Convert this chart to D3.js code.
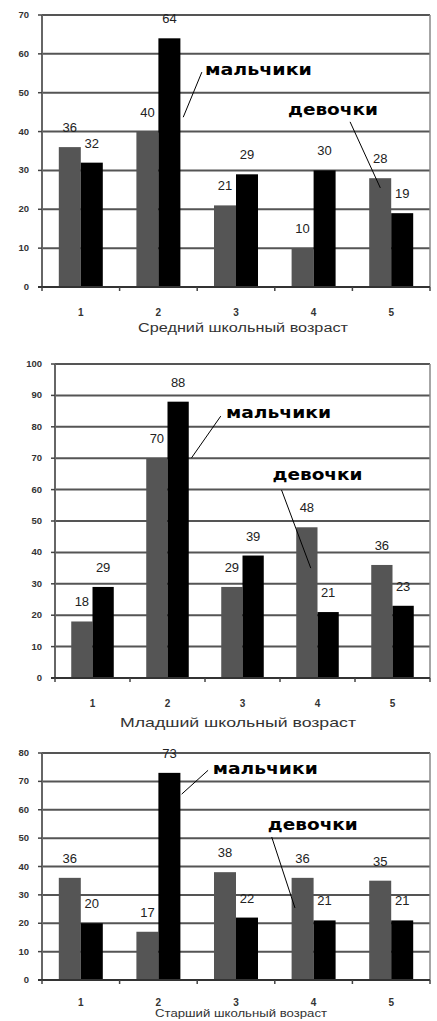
<!DOCTYPE html>
<html>
  <head>
    <meta charset="utf-8">
    <title>Школьный возраст</title>
    <style>
      body { margin: 0; background: #fff; }
      svg { display: block; }
      .tick-y { font-family: "Liberation Sans", Arial, sans-serif; font-size: 9.5px; font-weight: bold; fill: #333; }
      .tick-x { font-family: "Liberation Sans", Arial, sans-serif; font-size: 10px; font-weight: bold; fill: #333; }
      .val { font-family: "Liberation Sans", Arial, sans-serif; font-size: 13px; fill: #222; }
      .ttl { font-family: "Liberation Sans", Arial, sans-serif; fill: #333; }
      .note { font-family: "DejaVu Sans", sans-serif; font-size: 16px; font-weight: bold; fill: #000; }
    </style>
  </head>
  <body>
    <div id="chart"></div>
    <script src="https://d3js.org/d3.v7.min.js"></script>
    <script>
      var ageGroups = ["1", "2", "3", "4", "5"];
      var series    = ["девочки", "мальчики"];

      var middleGirls = [36, 40, 21, 10, 28],
          middleBoys  = [32, 64, 29, 30, 19];
      var juniorGirls = [18, 70, 29, 48, 36],
          juniorBoys  = [29, 88, 39, 21, 23];
      var seniorGirls = [36, 17, 38, 36, 35],
          seniorBoys  = [20, 73, 22, 21, 21];

      var titles = ["Средний школьный возраст", "Младший школьный возраст", "Старший школьный возраст"];
      var yMaxes = [70, 100, 80];

      var colors = {"девочки": "#555555", "мальчики": "#000000"};

      // layout for each of the three panels
      var panels = [
        {girls: middleGirls, boys: middleBoys, title: titles[0], ymax: yMaxes[0],
         left: 42, right: 430, top: 15, bottom: 287, tickY: 316,
         titleX: 243, titleY: 332, titleSize: 12, titleLen: 210,
         notes: [
           {text: "мальчики", tx: 2.10, tv: 55.8, len: 107, lx1: 2.06, lv1: 55.3, lx2: 1.82, lv2: 43.7},
           {text: "девочки",  tx: 3.17, tv: 45.5, len: 90,  lx1: 3.97, lv1: 42.5, lx2: 4.36, lv2: 25.5}
         ]},
        {girls: juniorGirls, boys: juniorBoys, title: titles[1], ymax: yMaxes[1],
         left: 55, right: 430, top: 364, bottom: 678, tickY: 707,
         titleX: 238, titleY: 727, titleSize: 13, titleLen: 236,
         notes: [
           {text: "мальчики", tx: 2.28, tv: 84.4, len: 105, lx1: 2.21, lv1: 83.4, lx2: 1.82, lv2: 70.1},
           {text: "девочки",  tx: 2.90, tv: 64.6, len: 90,  lx1: 3.02, lv1: 59.9, lx2: 3.41, lv2: 35.0}
         ]},
        {girls: seniorGirls, boys: seniorBoys, title: titles[2], ymax: yMaxes[2],
         left: 42, right: 430, top: 753, bottom: 980, tickY: 1006,
         titleX: 241, titleY: 1017, titleSize: 10, titleLen: 172,
         notes: [
           {text: "мальчики", tx: 2.20, tv: 74.3, len: 105, lx1: 2.14, lv1: 73.9, lx2: 1.80, lv2: 65.5},
           {text: "девочки",  tx: 2.91, tv: 54.6, len: 90,  lx1: 2.96, lv1: 50.4, lx2: 3.26, lv2: 25.4}
         ]}
      ];

      var svg = d3.select("#chart").append("svg")
                  .attr("width", 437)
                  .attr("height", 1021);

      panels.forEach(function(p) { drawPanel(p); });

      function drawPanel(p) {
        var g = svg.append("g");

        var pad = 0.433;
        var x = d3.scaleBand()
                  .domain(ageGroups)
                  .range([p.left, p.right])
                  .paddingInner(pad)
                  .paddingOuter(pad / 2);
        var xs = d3.scaleBand().domain(series).range([0, x.bandwidth()]);
        // continuous category position, for boundaries and callouts
        var xc = d3.scaleLinear().domain([0, ageGroups.length]).range([p.left, p.right]);
        var y  = d3.scaleLinear().domain([0, p.ymax]).range([p.bottom, p.top]);

        var ticks = d3.range(0, p.ymax + 1, 10);

        // gridlines
        g.selectAll(".grid").data(ticks.filter(function(t) { return t > 0; }))
          .enter().append("line")
          .attr("x1", p.left).attr("x2", p.right)
          .attr("y1", function(d) { return y(d); }).attr("y2", function(d) { return y(d); })
          .attr("stroke", "#555").attr("stroke-width", 2);

        // right border
        g.append("line")
          .attr("x1", p.right).attr("x2", p.right)
          .attr("y1", y(p.ymax)).attr("y2", y(0))
          .attr("stroke", "#888").attr("stroke-width", 1.5);

        // bars
        var rows = ageGroups.map(function(a, i) {
          return {age: a, "девочки": p.girls[i], "мальчики": p.boys[i]};
        });
        var grp = g.selectAll(".grp").data(rows).enter().append("g")
                   .attr("transform", function(d) { return "translate(" + x(d.age) + ",0)"; });
        grp.selectAll("rect")
          .data(function(d) { return series.map(function(s) { return {s: s, v: d[s]}; }); })
          .enter().append("rect")
          .attr("x", function(d) { return xs(d.s); })
          .attr("width", xs.bandwidth())
          .attr("y", function(d) { return y(d.v); })
          .attr("height", function(d) { return y(0) - y(d.v); })
          .attr("fill", function(d) { return colors[d.s]; });

        grp.selectAll("text")
          .data(function(d) { return series.map(function(s) { return {s: s, v: d[s]}; }); })
          .enter().append("text")
          .attr("class", "val")
          .attr("text-anchor", "middle")
          .attr("x", function(d) { return xs(d.s) + xs.bandwidth() / 2; })
          .attr("y", function(d) { return y(d.v) - 15; })
          .text(function(d) { return d.v; });

        // y axis
        g.append("line")
          .attr("x1", p.left).attr("x2", p.left)
          .attr("y1", y(p.ymax)).attr("y2", y(0))
          .attr("stroke", "#666").attr("stroke-width", 2);
        g.selectAll(".ytk").data(ticks).enter().append("line")
          .attr("x1", p.left - 4).attr("x2", p.left)
          .attr("y1", function(d) { return y(d); }).attr("y2", function(d) { return y(d); })
          .attr("stroke", "#444").attr("stroke-width", 1.5);
        g.selectAll(".ylbl").data(ticks).enter().append("text")
          .attr("class", "tick-y")
          .attr("text-anchor", "end")
          .attr("x", p.left - 13)
          .attr("y", function(d) { return y(d) + 3; })
          .text(function(d) { return d; });

        // x axis
        g.append("line")
          .attr("x1", p.left - 4).attr("x2", p.right)
          .attr("y1", y(0)).attr("y2", y(0))
          .attr("stroke", "#333").attr("stroke-width", 2);
        g.selectAll(".xtk").data(d3.range(0, ageGroups.length + 1)).enter().append("line")
          .attr("x1", function(d) { return xc(d); }).attr("x2", function(d) { return xc(d); })
          .attr("y1", y(0)).attr("y2", y(0) + 4)
          .attr("stroke", "#444").attr("stroke-width", 1.5);
        g.selectAll(".xlbl").data(ageGroups).enter().append("text")
          .attr("class", "tick-x")
          .attr("text-anchor", "middle")
          .attr("x", function(d) { return x(d) + x.bandwidth() / 2; })
          .attr("y", p.tickY)
          .text(function(d) { return d; });

        g.append("text")
          .attr("class", "ttl")
          .attr("text-anchor", "middle")
          .attr("x", p.titleX)
          .attr("y", p.titleY)
          .attr("textLength", p.titleLen)
          .attr("lengthAdjust", "spacingAndGlyphs")
          .style("font-size", p.titleSize + "px")
          .text(p.title);

        // callouts
        p.notes.forEach(function(n) {
          g.append("line")
            .attr("x1", xc(n.lx1)).attr("y1", y(n.lv1))
            .attr("x2", xc(n.lx2)).attr("y2", y(n.lv2))
            .attr("stroke", "#000").attr("stroke-width", 1);
          g.append("text")
            .attr("class", "note")
            .attr("x", xc(n.tx))
            .attr("y", y(n.tv) + 5)
            .attr("textLength", n.len)
            .attr("lengthAdjust", "spacingAndGlyphs")
            .text(n.text);
        });
      }
    </script>
  </body>
</html>
